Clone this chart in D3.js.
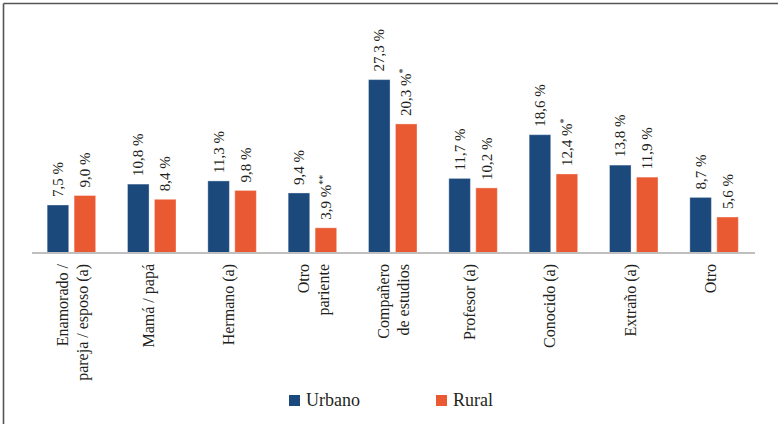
<!DOCTYPE html>
<html>
<head>
<meta charset="utf-8">
<script src="https://cdn.jsdelivr.net/npm/d3@7"></script>
<style>
  html, body { margin: 0; padding: 0; background: #fff; }
  svg { display: block; }
  svg text { font-family: "Liberation Serif", "DejaVu Serif", serif; }
</style>
</head>
<body>
<svg id="chart" width="778" height="424"></svg>
<script>
const categories = [
  ["Enamorado /", "pareja / esposo (a)"],
  ["Mamá / papá"],
  ["Hermano (a)"],
  ["Otro", "pariente"],
  ["Compañero", "de estudios"],
  ["Profesor (a)"],
  ["Conocido (a)"],
  ["Extraño (a)"],
  ["Otro"]
];
const seriesNames = ["Urbano", "Rural"];
const urbano = [7.5, 10.8, 11.3, 9.4, 27.3, 11.7, 18.6, 13.8, 8.7];
const rural  = [9.0, 8.4, 9.8, 3.9, 20.3, 10.2, 12.4, 11.9, 5.6];
const urbanoMarks = ["", "", "", "", "", "", "", "", ""];
const ruralMarks  = ["", "", "", "**", "*", "", "*", "", ""];

const colors = { Urbano: "#1b497c", Rural: "#e95a33" };
const fmt = v => d3.format(".1f")(v).replace(".", ",") + " %";

const svg = d3.select("#chart");
const textColor = "#231f20";

// frame (top & left edges visible)
svg.append("line").attr("x1", 3.5).attr("x2", 778).attr("y1", 3.5).attr("y2", 3.5)
  .attr("stroke", "#555").attr("stroke-width", 1.6);
svg.append("line").attr("x1", 3.5).attr("x2", 3.5).attr("y1", 3.5).attr("y2", 424)
  .attr("stroke", "#555").attr("stroke-width", 1.6);

const idx = d3.range(categories.length);
const x = d3.scaleBand().domain(idx).range([32, 755]).padding(0);
const xs = d3.scaleBand().domain(seriesNames).range([-25, 23.5]).paddingInner(0.2).paddingOuter(0);
const y = d3.scaleLinear().domain([0, 30]).range([252.5, 62.5]);

const data = idx.map(i => ({
  i,
  values: [
    { s: "Urbano", v: urbano[i], m: urbanoMarks[i] },
    { s: "Rural", v: rural[i], m: ruralMarks[i] }
  ]
}));

const groups = svg.append("g").selectAll("g").data(data).join("g")
  .attr("transform", d => `translate(${x(d.i) + x.bandwidth() / 2},0)`);

groups.selectAll("rect").data(d => d.values).join("rect")
  .attr("x", d => xs(d.s))
  .attr("width", xs.bandwidth())
  .attr("y", d => y(d.v))
  .attr("height", d => y(0) - y(d.v))
  .attr("fill", d => colors[d.s])
  .attr("stroke", "#ffffff")
  .attr("stroke-opacity", 0.35)
  .attr("stroke-width", 1);

// value labels
const vl = groups.selectAll("text.val").data(d => d.values).join("text")
  .attr("class", "val")
  .attr("transform", d => `translate(${xs(d.s) + xs.bandwidth() / 2 + 5},${y(d.v) - 8}) rotate(-90)`)
  .attr("text-anchor", "start")
  .attr("font-size", 15)
  .attr("fill", textColor);
vl.append("tspan").text(d => fmt(d.v));
vl.filter(d => d.m).append("tspan")
  .attr("font-size", 10)
  .attr("dy", -5)
  .text(d => d.m);

// baseline
svg.append("line").attr("x1", 32).attr("x2", 755).attr("y1", y(0) + 0.5).attr("y2", y(0) + 0.5)
  .attr("stroke", "#bfbfbf").attr("stroke-width", 2);

// category labels
const cl = svg.append("g").selectAll("g").data(idx).join("g")
  .attr("transform", i => `translate(${x(i) + x.bandwidth() / 2},0)`);
cl.each(function (i) {
  const lines = categories[i];
  const g = d3.select(this);
  lines.forEach((line, k) => {
    const off = lines.length === 1 ? 1 : (k === 0 ? -4.5 : 15.5);
    g.append("text")
      .attr("transform", `translate(${off},264) rotate(-90)`)
      .attr("text-anchor", "end")
      .attr("font-size", 16)
      .attr("fill", textColor)
      .text(line);
  });
});

// legend
const legendPos = [{ s: "Urbano", x: 289 }, { s: "Rural", x: 436 }];
const lg = svg.append("g").selectAll("g").data(legendPos).join("g")
  .attr("transform", d => `translate(${d.x},395)`);
lg.append("rect").attr("width", 11).attr("height", 11).attr("fill", d => colors[d.s]);
lg.append("text").attr("x", 17).attr("y", 10.5)
  .attr("font-size", 18).attr("fill", textColor)
  .text(d => d.s);
</script>
</body>
</html>
